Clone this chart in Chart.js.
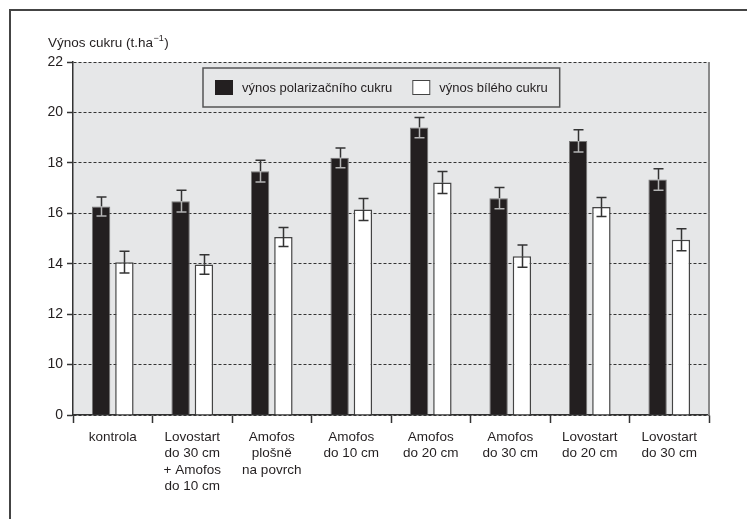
<!DOCTYPE html>
<html>
<head>
<meta charset="utf-8">
<script src="https://cdn.jsdelivr.net/npm/chart.js@4"></script>
<style>
body{margin:0;background:#fff;}
#wrap{width:747px;height:519px;}
</style>
</head>
<body>
<div id="wrap"><canvas id="chart" width="747" height="519"></canvas></div>
<script>
// data
const categories = [
  ["kontrola"],
  ["Lovostart","do 30 cm","+ Amofos","do 10 cm"],
  ["Amofos","plošně","na povrch"],
  ["Amofos","do 10 cm"],
  ["Amofos","do 20 cm"],
  ["Amofos","do 30 cm"],
  ["Lovostart","do 20 cm"],
  ["Lovostart","do 30 cm"]
];
const polarSugar = [16.27, 16.48, 17.67, 18.20, 19.40, 16.60, 18.87, 17.34];
const polarErr = [0.38, 0.43, 0.43, 0.39, 0.40, 0.42, 0.44, 0.43];
const whiteSugar = [14.06, 13.97, 15.06, 16.15, 17.22, 14.30, 16.25, 14.95];
const whiteErr = [0.43, 0.39, 0.38, 0.44, 0.44, 0.44, 0.38, 0.44];
const yTicks = [0, 10, 12, 14, 16, 18, 20, 22];
const seriesNames = ["výnos polarizačního cukru", "výnos bílého cukru"];
const yTitle = ["Výnos cukru (t.ha", "−1", ")"];

const FONT = "'Liberation Sans', Arial, sans-serif";
const INK = "#231f20";

// y axis with a break: 0-10 squeezed into the height of one 2-unit step
class BrokenScale extends Chart.LinearScale {
  static id = "broken";
  static defaults = Chart.LinearScale.defaults;
  squash(v){ return v >= 10 ? v - 8 : v * 0.2; }
  getPixelForValue(v){
    if(v === null || v === undefined) return NaN;
    const lo = this.squash(this.min), hi = this.squash(this.max);
    return this.getPixelForDecimal((this.squash(v) - lo) / (hi - lo));
  }
  getValueForPixel(p){
    const lo = this.squash(this.min), hi = this.squash(this.max);
    const s = lo + this.getDecimalForPixel(p) * (hi - lo);
    return s >= 2 ? s + 8 : s * 5;
  }
}
Chart.register(BrokenScale);

const frame = {
  id:"frame",
  beforeDraw(chart){
    const {ctx, chartArea:a} = chart;
    ctx.save();
    ctx.fillStyle = "#e6e7e8";
    ctx.fillRect(a.left, a.top, a.right - a.left, a.bottom - a.top);
    ctx.restore();
  },
  afterDraw(chart){
    const {ctx, chartArea:a} = chart;
    ctx.save();
    // outer frame (top + left only)
    ctx.strokeStyle = "#444";
    ctx.lineWidth = 2;
    ctx.beginPath();
    ctx.moveTo(10, chart.height);
    ctx.lineTo(10, 10);
    ctx.lineTo(chart.width, 10);
    ctx.stroke();
    // right border of plot
    ctx.strokeStyle = "#8a8a8a";
    ctx.beginPath();
    ctx.moveTo(a.right, a.top);
    ctx.lineTo(a.right, a.bottom);
    ctx.stroke();
    // axis title with superscript
    ctx.fillStyle = INK;
    ctx.textBaseline = "alphabetic";
    ctx.font = "13.5px " + FONT;
    let tx = 48;
    ctx.fillText(yTitle[0], tx, 47);
    tx += ctx.measureText(yTitle[0]).width + 0.5;
    ctx.font = "9px " + FONT;
    ctx.fillText(yTitle[1], tx, 41);
    tx += ctx.measureText(yTitle[1]).width + 0.5;
    ctx.font = "13.5px " + FONT;
    ctx.fillText(yTitle[2], tx, 47);
    // legend box
    ctx.font = "13px " + FONT;
    const boxL = 203, boxT = 68, boxH = 39;
    const sqW = 18, sqH = 15;
    const w1 = ctx.measureText(seriesNames[0]).width;
    const w2 = ctx.measureText(seriesNames[1]).width;
    let x = boxL + 12;
    const x1 = x; x += sqW + 9;
    const t1 = x; x += w1 + 20;
    const x2 = x; x += sqW + 9;
    const t2 = x; x += w2 + 12;
    ctx.fillStyle = "#e6e7e8";
    ctx.fillRect(boxL, boxT, x - boxL, boxH);
    ctx.strokeStyle = "#555";
    ctx.lineWidth = 1.5;
    ctx.strokeRect(boxL, boxT, x - boxL, boxH);
    const ds = chart.data.datasets;
    const sqT = boxT + 12;
    ctx.fillStyle = ds[0].backgroundColor;
    ctx.fillRect(x1, sqT, sqW, sqH);
    ctx.fillStyle = ds[1].backgroundColor;
    ctx.fillRect(x2, sqT, sqW, sqH);
    ctx.lineWidth = 1;
    ctx.strokeStyle = "#444";
    ctx.strokeRect(x2 + 0.5, sqT + 0.5, sqW - 1, sqH - 1);
    ctx.fillStyle = INK;
    ctx.textBaseline = "middle";
    ctx.fillText(ds[0].label, t1, sqT + sqH / 2 + 1);
    ctx.fillText(ds[1].label, t2, sqT + sqH / 2 + 1);
    ctx.restore();
  }
};

const errorBars = {
  id:"errorBars",
  afterDatasetsDraw(chart){
    const {ctx} = chart;
    const y = chart.scales.y;
    chart.data.datasets.forEach((ds, i) => {
      const meta = chart.getDatasetMeta(i);
      meta.data.forEach((bar, j) => {
        const v = ds.data[j], e = ds.errors[j];
        const top = y.getPixelForValue(v + e);
        const mid = y.getPixelForValue(v);
        const bot = y.getPixelForValue(v - e);
        const cx = Math.round(bar.x) + 0.5;
        ctx.save();
        ctx.lineWidth = 1.5;
        ctx.strokeStyle = "#333";
        ctx.beginPath();
        ctx.moveTo(cx, mid); ctx.lineTo(cx, top);
        ctx.moveTo(cx - 5, top); ctx.lineTo(cx + 5, top);
        ctx.stroke();
        ctx.strokeStyle = ds.whiskerInside;
        ctx.beginPath();
        ctx.moveTo(cx, mid); ctx.lineTo(cx, bot);
        ctx.moveTo(cx - 5, bot); ctx.lineTo(cx + 5, bot);
        ctx.stroke();
        ctx.restore();
      });
    });
  }
};

new Chart(document.getElementById("chart"), {
  type:"bar",
  data:{
    labels:categories,
    datasets:[
      {label:seriesNames[0], data:polarSugar, errors:polarErr, whiskerInside:"#b5b5b5",
       backgroundColor:"#231f20", borderColor:"#777", borderWidth:1},
      {label:seriesNames[1], data:whiteSugar, errors:whiteErr, whiskerInside:"#333",
       backgroundColor:"#ffffff", borderColor:"#444", borderWidth:1.5}
    ]
  },
  options:{
    responsive:false,
    animation:false,
    layout:{padding:{left:0, top:62, right:38, bottom:0}},
    categoryPercentage:0.586,
    barPercentage:0.79,
    font:{family:FONT},
    plugins:{legend:{display:false}, tooltip:{enabled:false}},
    scales:{
      x:{
        offset:true,
        grid:{offset:true, drawOnChartArea:false, drawTicks:true, tickLength:8, color:"#333", tickWidth:1.5},
        border:{display:true, color:"#333", width:1.5},
        ticks:{color:INK, font:{family:FONT, size:13.5, lineHeight:1.21}, padding:6, maxRotation:0, autoSkip:false},
        afterFit(s){ s.height = 104; }
      },
      y:{
        type:"broken",
        min:0, max:22,
        afterBuildTicks(s){ s.ticks = yTicks.map(v => ({value:v})); },
        grid:{color:"#333", lineWidth:1, tickLength:6, tickColor:"#333", tickWidth:1.5},
        border:{display:true, color:"#333", width:1.5, dash:[3,2]},
        ticks:{color:INK, font:{family:FONT, size:14}, padding:4, callback:v => String(v)},
        afterFit(s){ s.width = 73; }
      }
    }
  },
  plugins:[frame, errorBars]
});
</script>
</body>
</html>
